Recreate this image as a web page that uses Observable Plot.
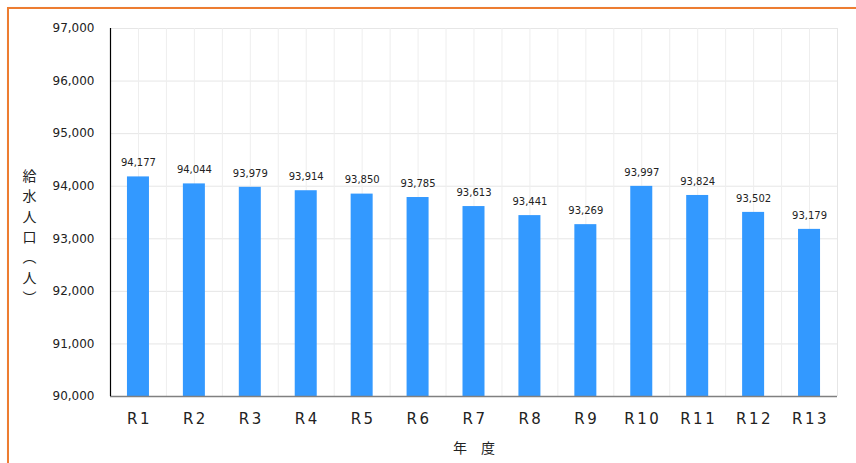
<!DOCTYPE html>
<html><head><meta charset="utf-8">
<script src="https://cdn.jsdelivr.net/npm/d3@7"></script>
<script src="https://cdn.jsdelivr.net/npm/@observablehq/plot@0.6"></script>
<style>
body{margin:0;background:#fff;font-family:"DejaVu Sans","Noto Sans CJK JP",sans-serif;}
#wrap{position:relative;width:856px;height:463px;overflow:hidden;}
#border{position:absolute;left:7px;top:7px;width:900px;height:600px;border-left:2px solid #ED7D31;border-top:2px solid #ED7D31;box-shadow:1px 1px 2px #ccc;}
#chart{position:absolute;left:0;top:0;}
</style></head>
<body><div id="wrap"><div id="border"></div><div id="chart"></div></div>
<script>
const categories = ["R1","R2","R3","R4","R5","R6","R7","R8","R9","R10","R11","R12","R13"];
const values = [94177,94044,93979,93914,93850,93785,93613,93441,93269,93997,93824,93502,93179];
const yTicks = [90000,91000,92000,93000,94000,95000,96000,97000];
const yTitle = "給\n水\n人\n口\n︵\n人\n︶";
const xTitle = "年　度";

const data = categories.map((c,i)=>({cat:c, v:values[i]}));
const W=856,H=463,mL=110,mR=19,mT=28,mB=67;
const step=(W-mL-mR)/categories.length;
const font='"DejaVu Sans","Noto Sans CJK JP",sans-serif';

const chart = Plot.plot({
  width:W,height:H,marginLeft:mL,marginRight:mR,marginTop:mT,marginBottom:mB,
  style:{fontFamily:font,background:"transparent",color:"#222"},
  x:{domain:categories,padding:0,round:false,label:null},
  y:{domain:[90000,97000],label:null},
  marks:[
    Plot.gridY(yTicks,{stroke:"#e6e6e6",strokeOpacity:1}),
    Plot.ruleX(categories,{x:d=>d,stroke:"#eeeeee"}),
    Plot.ruleX(categories,{x:d=>d,dx:-step/2,stroke:"#eeeeee"}),
    Plot.ruleX([categories[categories.length-1]],{x:d=>d,dx:step/2,stroke:"#e6e6e6"}),
    Plot.barY(data,{x:"cat",y1:90000,y2:"v",fill:"#3399FF",insetLeft:(step-22)/2,insetRight:(step-22)/2}),
    Plot.text(data,{x:"cat",y:"v",text:d=>d3.format(",")(d.v),dy:-14,fontSize:10,fill:"#222"}),
    Plot.ruleY([90000],{stroke:"#808080",strokeWidth:1.5}),
    Plot.ruleX([categories[0]],{x:d=>d,dx:-step/2,stroke:"#000",strokeWidth:1.2}),
    Plot.axisY(yTicks,{tickSize:0,tickPadding:16,fontSize:12,tickFormat:d3.format(","),label:null,fill:"#222"}),
    Plot.axisX({tickSize:0,tickPadding:17,fontSize:15,label:null,fill:"#222",dx:1}),
    Plot.text([xTitle],{frameAnchor:"bottom",dy:56,fontSize:14,fill:"#222",fontFamily:'"Noto Sans CJK JP",sans-serif'}),
    Plot.text([yTitle],{frameAnchor:"left",dx:-88,dy:23,fontSize:14,lineHeight:1.45,fill:"#222",fontFamily:'"Noto Sans CJK JP",sans-serif'})
  ]
});
d3.select(chart).selectAll("g[aria-label='x-axis tick label'] text").style("letter-spacing","2.5px");
document.getElementById("chart").appendChild(chart);
</script></body></html>
